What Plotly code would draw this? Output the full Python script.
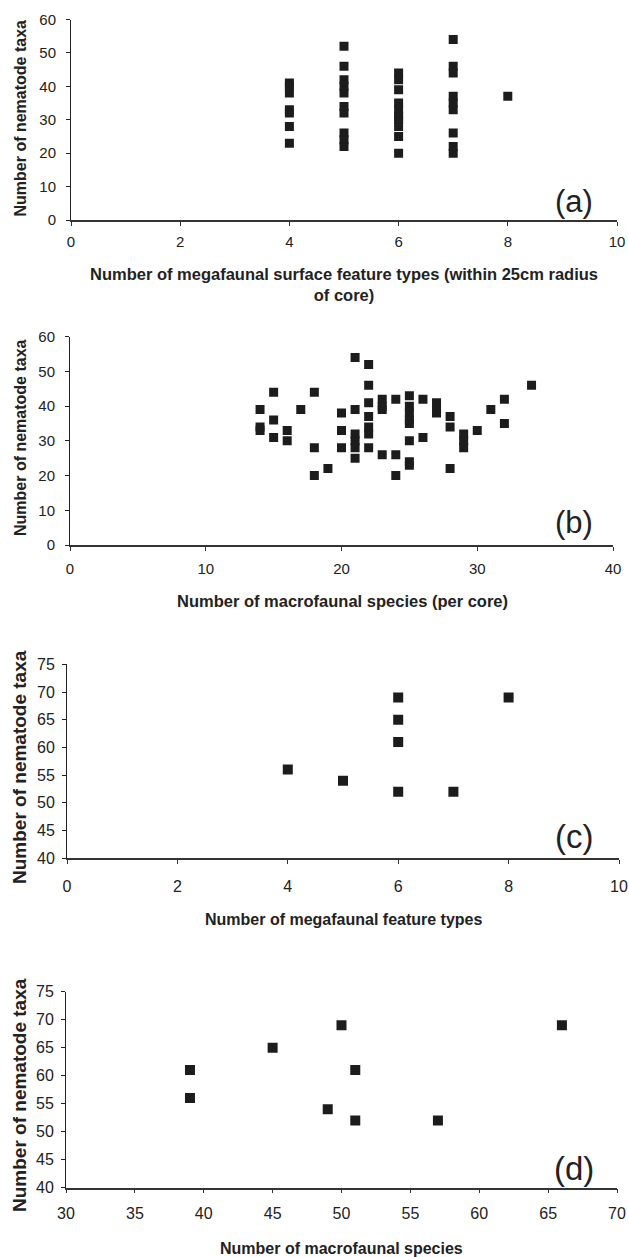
import plotly.graph_objects as go

W, H = 629, 1257

# ---------------- data ----------------
# (a) megafaunal surface feature types vs nematode taxa
a_x = [4, 4, 4, 4, 4, 4, 4,
       5, 5, 5, 5, 5, 5, 5, 5, 5, 5,
       6, 6, 6, 6, 6, 6, 6, 6, 6, 6,
       7, 7, 7, 7, 7, 7, 7, 7, 7,
       8]
a_y = [41, 40, 38, 33, 32, 28, 23,
       52, 46, 42, 40, 38, 34, 32, 26, 24, 22,
       44, 42, 39, 35, 33, 31, 30, 28, 25, 20,
       54, 46, 44, 37, 35, 33, 26, 22, 20,
       37]

# (b) macrofaunal species per core vs nematode taxa
b_x = [14, 14, 14,
       15, 15, 15,
       16, 16,
       17,
       18, 18, 18,
       19,
       20, 20, 20,
       21, 21, 21, 21, 21, 21,
       22, 22, 22, 22, 22, 22, 22,
       23, 23, 23, 23,
       24, 24, 24,
       25, 25, 25, 25, 25, 25, 25, 25,
       26, 26,
       27, 27, 27,
       28, 28, 28,
       29, 29, 29,
       30,
       31,
       32, 32,
       34]
b_y = [39, 34, 33,
       44, 36, 31,
       33, 30,
       39,
       44, 28, 20,
       22,
       38, 33, 28,
       54, 39, 32, 30, 28, 25,
       52, 46, 41, 37, 34, 32, 28,
       42, 40, 39, 26,
       42, 26, 20,
       43, 40, 38, 36, 35, 30, 24, 23,
       42, 31,
       41, 39, 38,
       37, 34, 22,
       32, 30, 28,
       33,
       39,
       42, 35,
       46]

# (c) megafaunal feature types vs nematode taxa (pooled)
c_x = [4, 5, 6, 6, 6, 6, 7, 8]
c_y = [56, 54, 69, 65, 61, 52, 52, 69]

# (d) macrofaunal species vs nematode taxa (pooled)
d_x = [39, 39, 45, 49, 50, 51, 51, 57, 66]
d_y = [61, 56, 65, 54, 69, 61, 52, 52, 69]

y_title = "Number of nematode taxa"
x_titles = ["Number of megafaunal surface feature types (within 25cm radius<br>of core)",
            "Number of macrofaunal species (per core)",
            "Number of megafaunal feature types",
            "Number of macrofaunal species"]
panel_labels = ["(a)", "(b)", "(c)", "(d)"]

x_ranges = [[0, 10], [0, 40], [0, 10], [30, 70]]
x_dticks = [2, 10, 2, 5]
y_ranges = [[0, 60], [0, 60], [40, 75], [40, 75]]
y_dticks = [10, 10, 5, 5]

# ---------------- layout geometry (pixels) ----------------
plot_boxes = [  # x0, x1, ytop, ybottom
    (71, 617, 19.5, 220),
    (70, 613, 336.7, 545),
    (67, 619, 664.3, 858.3),
    (66, 617, 991.7, 1187.7),
]
xtitle_pos = [(344, 284), (342, 601), (344, 919), (341, 1248)]
ytitle_pos = [(20, 118.5), (20, 438), (19, 767), (19, 1095)]
label_pos = [(574, 201), (574, 522), (574, 837), (574, 1168)]
xstand = [3, 5, 9, 6]
ystand = [7, 7, 4, 4]

FONT = "Liberation Sans, Arial, sans-serif"
tick_sizes = [15, 15, 16, 16]
xtitle_sizes = [16.5, 16.5, 16, 16]
ytitle_sizes = [16, 16, 19, 19]

MARK = "#1c1c1c"
data = [(a_x, a_y), (b_x, b_y), (c_x, c_y), (d_x, d_y)]
msize = [9, 9, 10, 10]

fig = go.Figure()
annotations = []
layout = {}
for i, ((xs, ys), box) in enumerate(zip(data, plot_boxes)):
    n = "" if i == 0 else str(i + 1)
    fig.add_trace(go.Scatter(
        x=xs, y=ys, mode="markers",
        marker=dict(symbol="square", size=msize[i], color=MARK, line=dict(width=0)),
        xaxis="x" + n, yaxis="y" + n, showlegend=False, hoverinfo="x+y"))
    x0, x1, yt, yb = box
    layout["xaxis" + n] = dict(
        domain=[x0 / W, x1 / W], range=x_ranges[i], dtick=x_dticks[i], tick0=x_ranges[i][0],
        anchor="y" + n, showgrid=False, zeroline=False, showline=True, automargin=False,
        linecolor="#333333", linewidth=1.5, ticks="outside", ticklen=4, tickcolor="#333333",
        tickwidth=1, ticklabelstandoff=xstand[i],
        tickfont=dict(family=FONT, size=tick_sizes[i], color="#222222"))
    layout["yaxis" + n] = dict(
        domain=[1 - yb / H, 1 - yt / H], range=y_ranges[i], dtick=y_dticks[i], tick0=y_ranges[i][0],
        anchor="x" + n, showgrid=False, zeroline=False, showline=True, automargin=False,
        linecolor="#222222", linewidth=1, ticks="outside", ticklen=4, tickcolor="#222222",
        ticklabelstandoff=ystand[i],
        tickfont=dict(family=FONT, size=tick_sizes[i], color="#222222"))
    tx, ty = xtitle_pos[i]
    annotations.append(dict(
        text=f"<b>{x_titles[i]}</b>", x=tx / W, y=1 - ty / H, xref="paper", yref="paper",
        xanchor="center", yanchor="middle", showarrow=False,
        font=dict(family=FONT, size=xtitle_sizes[i], color="#222222")))
    vx, vy = ytitle_pos[i]
    annotations.append(dict(
        text=f"<b>{y_title}</b>", x=vx / W, y=1 - vy / H, xref="paper", yref="paper",
        xanchor="center", yanchor="middle", showarrow=False, textangle=-90,
        font=dict(family=FONT, size=ytitle_sizes[i], color="#222222")))
    lx, ly = label_pos[i]
    annotations.append(dict(
        text=panel_labels[i], x=lx / W, y=1 - ly / H, xref="paper", yref="paper",
        xanchor="center", yanchor="middle", showarrow=False,
        font=dict(family=FONT, size=31 if i < 2 else 33, color="#222222")))

fig.update_layout(
    template="none",
    width=W, height=H, margin=dict(l=0, r=0, t=0, b=0, pad=0),
    paper_bgcolor="white", plot_bgcolor="white",
    annotations=annotations, **layout)

fig.write_html("out.html",
               config={"displayModeBar": False},
               post_script="document.body.style.margin='0';document.body.style.overflow='hidden';")
